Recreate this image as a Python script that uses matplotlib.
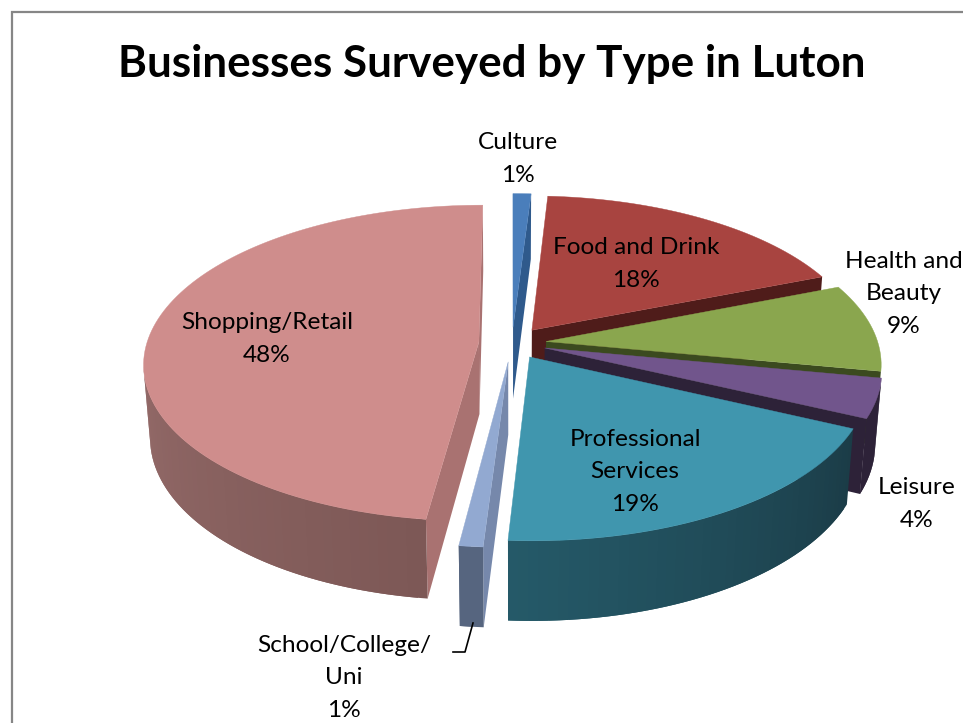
"""
plot.py
-------
Exploded 3D pie of surveyed business types, drawn as a perspective projection.
"""

import numpy as np
import matplotlib
matplotlib.use("Agg")
import matplotlib.pyplot as plt
from matplotlib.patches import Polygon

plt.rcParams["font.family"] = ["Lato", "DejaVu Sans"]

# ── Data ──────────────────────────────────────────────────────────────────────
TITLE = "Businesses Surveyed by Type in Luton"
names = ["Culture", "Food and Drink", "Health and\nBeauty", "Leisure",
         "Professional\nServices", "School/College/\nUni", "Shopping/Retail"]
values = [1, 18, 9, 4, 19, 1, 48]

# ── Styles ────────────────────────────────────────────────────────────────────
top_colors = ["#4a7ebb", "#a84440", "#8aa64e", "#71558c", "#4096ae", "#92a9d1", "#cf8d8c"]
wall_colors = ["#2f5a8c", "#4f1c1a", "#3b4a1f", "#2d2238", "#1c3f4b", "#7688ab", "#a97271"]
rim_start = ["#2f5a8c", "#4f1c1a", "#3b4a1f", "#2d2238", "#1b3c47", "#56657f", "#7d5856"]
rim_end = ["#2f5a8c", "#4f1c1a", "#3b4a1f", "#2d2238", "#255a69", "#56657f", "#b08180"]
explode = [0.103, 0.103, 0.103, 0.103, 0.103, 0.12, 0.10]
draw_order = [0, 6, 1, 2, 3, 5, 4]
label_xy = [(518, 159), (636, 264), (904, 294), (917, 504), (635, 472), (344, 678), (267, 339)]

# ── Camera ────────────────────────────────────────────────────────────────────
ORIGIN = (512, 343)
RADIUS_PX = 332
ELEV = np.radians(27.9)
DIST = 6.63
HEIGHT = 0.25


def project(x, y, z):
    """Unit-pie coordinates (y towards viewer, z up) to canvas pixels."""
    x, y, z = np.asarray(x, float), np.asarray(y, float), np.asarray(z, float)
    depth = DIST - y * np.cos(ELEV) - z * np.sin(ELEV)
    scale = RADIUS_PX * DIST / depth
    return np.column_stack([
        ORIGIN[0] + x * scale,
        ORIGIN[1] + (y * np.sin(ELEV) - z * np.cos(ELEV)) * scale,
    ])


def signed_area(pts):
    x, y = pts[:, 0], pts[:, 1]
    return 0.5 * np.sum(x * np.roll(y, -1) - np.roll(x, -1) * y)


def mix(c0, c1, t):
    a = np.array(matplotlib.colors.to_rgb(c0))
    b = np.array(matplotlib.colors.to_rgb(c1))
    return tuple(a + (b - a) * t)


def draw_slice(ax, i, a0, a1):
    mid = (a0 + a1) / 2
    ox, oy = explode[i] * np.sin(mid), -explode[i] * np.cos(mid)
    n = max(int(np.degrees(a1 - a0) / 1.5), 2)
    th = np.linspace(a0, a1, n + 1)
    rx, ry = ox + np.sin(th), oy - np.cos(th)

    # radial walls, only the ones turned towards the camera
    for ang, sign in ((a0, -1), (a1, 1)):
        ex, ey = ox + np.sin(ang), oy - np.cos(ang)
        wall = project([ox, ex, ex, ox], [oy, ey, ey, oy], [0, 0, -HEIGHT, -HEIGHT])
        if signed_area(wall) * sign > 0:
            ax.add_patch(Polygon(wall, closed=True, fc=wall_colors[i], ec="none"))

    # outer rim in shaded strips, each reaching under the next one to hide seams
    for k in range(n):
        step = project([rx[k], rx[k + 1], rx[k + 1], rx[k]],
                       [ry[k], ry[k + 1], ry[k + 1], ry[k]],
                       [0, 0, -HEIGHT, -HEIGHT])
        if signed_area(step) >= 0:
            continue
        j = min(k + 2, n)
        col = mix(rim_start[i], rim_end[i], k / n)
        strip = project(np.r_[rx[k:j + 1], rx[k:j + 1][::-1]],
                        np.r_[ry[k:j + 1], ry[k:j + 1][::-1]],
                        np.r_[np.zeros(j - k + 1), np.full(j - k + 1, -HEIGHT)])
        ax.add_patch(Polygon(strip, closed=True, fc=col, ec="none"))

    top = project(np.r_[ox, rx], np.r_[oy, ry], np.zeros(n + 2))
    ax.add_patch(Polygon(top, closed=True, fc=top_colors[i], ec=top_colors[i], lw=0.3))


# ── Figure ────────────────────────────────────────────────────────────────────
fig = plt.figure(figsize=(9.63, 7.23), dpi=100, facecolor="white")
ax = fig.add_axes([0, 0, 1, 1])
ax.set_xlim(0, 963)
ax.set_ylim(723, 0)
ax.axis("off")

# chart frame runs off the canvas on the right and bottom
ax.plot([11.5, 11.5, 970], [730, 12, 12], color="#868686", lw=1.6, solid_joinstyle="miter")

ax.text(492, 64, TITLE, ha="center", va="center", fontsize=31.7, fontweight="bold", color="black")

edges = np.radians(np.cumsum([0] + values) * 3.6)
for i in draw_order:
    draw_slice(ax, i, edges[i], edges[i + 1])

# leader line of the School/College/Uni label
ax.plot([473, 465, 453], [623, 652, 652], color="black", lw=1.2)

for name, value, (x, y) in zip(names, values, label_xy):
    ax.text(x, y, f"{name}\n{value}%", ha="center", va="center", fontsize=17.6,
            color="black", linespacing=1.66)

fig.savefig("out.png", dpi=100)
